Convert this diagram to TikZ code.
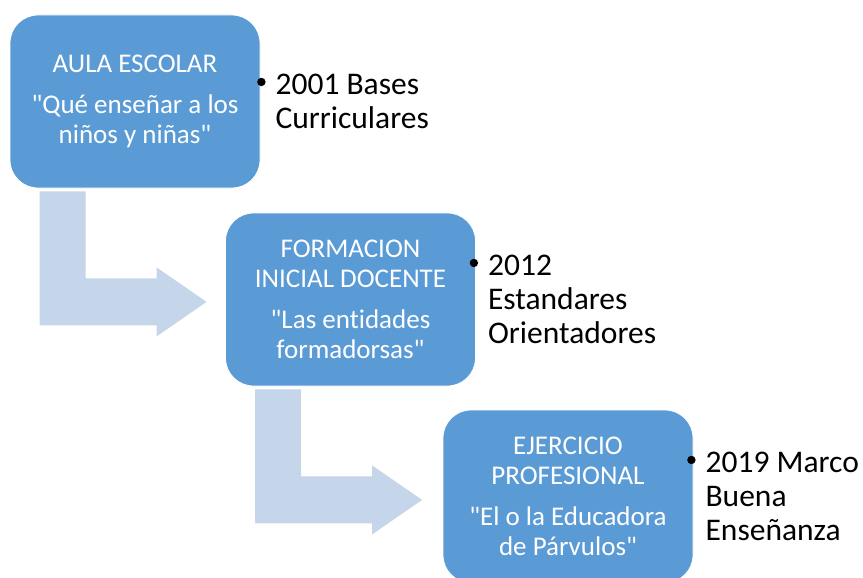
\documentclass[tikz,border=0pt]{standalone}
\usepackage{fontspec}
\setmainfont{Carlito}[Ligatures={TeXOff,NoCommon}]
\usepackage{xcolor}
\usetikzlibrary{positioning,calc}
\definecolor{boxblue}{HTML}{5B9BD5}
\definecolor{arrowblue}{HTML}{C5D5EA}
\tikzset{
    stage/.style={draw=white,line width=0.8pt,fill=boxblue,rounded corners=28pt,
        minimum width=250pt,minimum height=173pt,inner sep=0pt,
        align=center,text=white,font=\fontsize{27}{29.5}\selectfont},
    milestone/.style={align=left,inner sep=0pt,anchor=west,
        font=\fontsize{31.5}{34}\selectfont},
}

\begin{document}
\begin{tikzpicture}[x=1pt,y=-1pt]
        \useasboundingbox (0,0) rectangle (863,578);
        \node[stage] (aula) at (135,101.5) {AULA ESCOLAR\\[11.5pt] "Qué enseñar a los\\ niños y niñas"};
        \node[stage] (formacion) at (350.5,299.5) {FORMACION\\ INICIAL DOCENTE\\[12pt] "Las entidades\\ formadorsas"};
        \node[stage] (ejercicio) at (568,496.5) {EJERCICIO\\ PROFESIONAL\\[12pt] "El o la Educadora\\ de Párvulos"};
        \node[milestone,right=15pt of aula] (bases) {2001 Bases\\ Curriculares};
        \node[milestone,right=12pt of formacion] (estandares) {2012\\ Estandares\\ Orientadores};
        \node[milestone,right=12pt of ejercicio] (marco) {2019 Marco\\ Buena\\ Enseñanza};
        \foreach \m in {bases,estandares,marco}{
            \fill ($(\m.north west)+(-14,8)$) circle (4.2pt);
        }
        \foreach \from in {aula,formacion}{
            \begin{scope}[shift={(\from.south west)}]
                \fill[arrowblue] (30,3) -- (76,3) -- (76,90) -- (147,90) -- (147,79)
                    -- (197,113.5) -- (147,148) -- (147,137) -- (30,137) -- cycle; % bent arrow
            \end{scope}
        }
    \end{tikzpicture}
\end{document}
